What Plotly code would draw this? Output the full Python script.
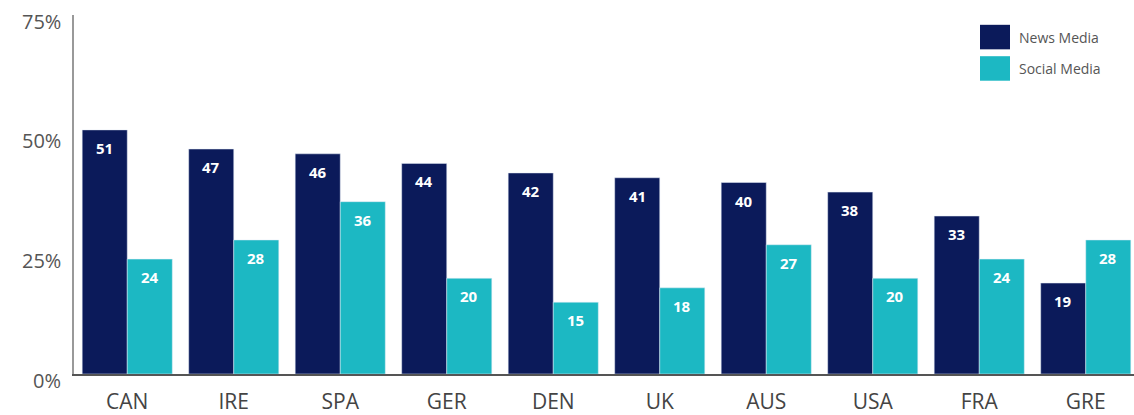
import plotly.graph_objects as go

countries = ["CAN", "IRE", "SPA", "GER", "DEN", "UK", "AUS", "USA", "FRA", "GRE"]
news_media = [51, 47, 46, 44, 42, 41, 40, 38, 33, 19]
social_media = [24, 28, 36, 20, 15, 18, 27, 20, 24, 28]
y_ticks = [0, 25, 50, 75]
y_tick_labels = ["0%", "25%", "50%", "75%"]
series_names = ["News Media", "Social Media"]

NAVY = "#0b1a5a"
TEAL = "#1cb8c3"
FONT = "Open Sans"
BAR_W = 0.423

xs = list(range(len(countries)))

fig = go.Figure()
fig.add_trace(go.Bar(x=xs, y=news_media, name=series_names[0], marker_color=NAVY,
                     width=BAR_W, offset=-BAR_W, showlegend=False, hoverinfo="y"))
fig.add_trace(go.Bar(x=xs, y=social_media, name=series_names[1], marker_color=TEAL,
                     width=BAR_W, offset=0, showlegend=False, hoverinfo="y"))

label_font = dict(family=FONT, size=15, color="white", weight="bold")
annotations = []
for i, (n, s) in enumerate(zip(news_media, social_media)):
    annotations.append(dict(x=i - BAR_W / 2, y=n, text=str(n), showarrow=False,
                            yshift=-18, font=label_font, xref="x", yref="y"))
    annotations.append(dict(x=i + BAR_W / 2, y=s, text=str(s), showarrow=False,
                            yshift=-18, font=label_font, xref="x", yref="y"))
for v, t in zip(y_ticks, y_tick_labels):
    annotations.append(dict(x=0, y=v, xref="paper", yref="y", text=t, showarrow=False,
                            xanchor="right", xshift=-11, yshift=-6,
                            font=dict(family=FONT, size=20, color="#555555")))

# custom legend (large colour swatches as in the reference)
legend_colors = [NAVY, TEAL]
legend_shapes = []
for k, (name, col) in enumerate(zip(series_names, legend_colors)):
    top_px = 25 + 32 * k
    bot_px = top_px + 25
    y_top = (381 - top_px) / 366
    y_bot = (381 - bot_px) / 366
    legend_shapes.append(dict(type="rect", xref="paper", yref="paper",
                              x0=(980 - 74) / 1060, x1=(1010 - 74) / 1060,
                              y0=y_bot, y1=y_top, line=dict(width=0), fillcolor=col))
    annotations.append(dict(xref="paper", yref="paper", x=(1017 - 74) / 1060,
                            y=(y_top + y_bot) / 2, text=name, showarrow=False,
                            xanchor="left", yanchor="middle",
                            font=dict(family=FONT, size=14, color="#555555")))

fig.update_layout(
    width=1134, height=415,
    margin=dict(l=74, r=0, t=15, b=34),
    paper_bgcolor="white", plot_bgcolor="white",
    barmode="overlay",
    annotations=annotations,
    shapes=legend_shapes,
    showlegend=False,
    font=dict(family=FONT),
)
fig.update_xaxes(
    range=[-0.5, 9.453], tickvals=xs, ticktext=countries,
    showgrid=False, zeroline=False, showline=True, linecolor="#555555", linewidth=2,
    ticks="", tickfont=dict(family=FONT, size=21, color="#444444"),
    ticklabelstandoff=8, fixedrange=True,
)
fig.update_yaxes(
    range=[0, 75], tickvals=y_ticks, showticklabels=False,
    showgrid=False, zeroline=False, showline=True, linecolor="#999999", linewidth=2,
    ticks="", fixedrange=True,
)

fig.write_html("out.html")
